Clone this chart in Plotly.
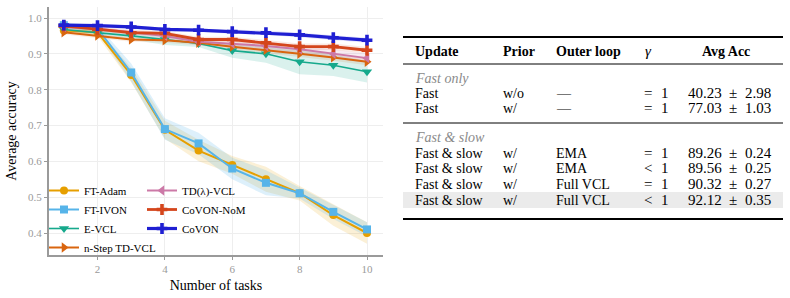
import plotly.graph_objects as go

# ---------------- data ----------------
tasks = [1, 2, 3, 4, 5, 6, 7, 8, 9, 10]

names = ["FT-Adam", "FT-IVON", "E-VCL", "n-Step TD-VCL", "TD(λ)-VCL", "CoVON-NoM", "CoVON"]

ft_adam = [0.965, 0.960, 0.841, 0.688, 0.630, 0.590, 0.550, 0.511, 0.450, 0.400]
ft_ivon = [0.980, 0.970, 0.848, 0.690, 0.650, 0.580, 0.540, 0.511, 0.459, 0.410]
e_vcl = [0.968, 0.960, 0.950, 0.940, 0.929, 0.909, 0.900, 0.878, 0.868, 0.850]
nstep_td = [0.960, 0.951, 0.940, 0.938, 0.931, 0.920, 0.911, 0.900, 0.890, 0.878]
td_lambda = [0.975, 0.970, 0.960, 0.950, 0.934, 0.929, 0.922, 0.913, 0.900, 0.888]
covon_nom = [0.978, 0.968, 0.959, 0.957, 0.940, 0.940, 0.931, 0.920, 0.920, 0.910]
covon = [0.980, 0.979, 0.975, 0.968, 0.966, 0.962, 0.959, 0.953, 0.945, 0.938]

ft_adam_sd = [0.008, 0.010, 0.020, 0.025, 0.030, 0.025, 0.035, 0.020, 0.030, 0.030]
ft_ivon_sd = [0.008, 0.010, 0.025, 0.030, 0.030, 0.030, 0.035, 0.015, 0.020, 0.020]
e_vcl_sd = [0.005, 0.006, 0.010, 0.015, 0.010, 0.020, 0.025, 0.035, 0.030, 0.030]
nstep_td_sd = [0.006, 0.006, 0.006, 0.007, 0.007, 0.008, 0.008, 0.009, 0.009, 0.010]
td_lambda_sd = [0.006, 0.006, 0.008, 0.010, 0.010, 0.010, 0.010, 0.012, 0.012, 0.012]
covon_nom_sd = [0.005, 0.006, 0.006, 0.007, 0.008, 0.008, 0.008, 0.009, 0.009, 0.009]
covon_sd = [0.004, 0.004, 0.005, 0.005, 0.005, 0.006, 0.006, 0.006, 0.007, 0.007]

x_ticks = [2, 4, 6, 8, 10]
y_ticks = [0.4, 0.5, 0.6, 0.7, 0.8, 0.9, 1.0]

# table content
tbl_header = ["Update", "Prior", "Outer loop", "<i>γ</i>", "Avg Acc"]
grp1_title = "Fast only"
grp1_update = ["Fast", "Fast"]
grp1_prior = ["w/o", "w/"]
grp1_outer = ["—", "—"]
grp1_gamma = ["=", "="]
grp1_acc_mean = ["40.23", "77.03"]
grp1_acc_sd = ["2.98", "1.03"]
grp2_title = "Fast &amp; slow"
grp2_update = ["Fast &amp; slow"] * 4
grp2_prior = ["w/", "w/", "w/", "w/"]
grp2_outer = ["EMA", "EMA", "Full VCL", "Full VCL"]
grp2_gamma = ["=", "&lt;", "=", "&lt;"]
grp2_acc_mean = ["89.26", "89.56", "90.32", "92.12"]
grp2_acc_sd = ["0.24", "0.25", "0.27", "0.35"]

# ---------------- style ----------------
series = [ft_adam, ft_ivon, e_vcl, nstep_td, td_lambda, covon_nom, covon]
sds = [ft_adam_sd, ft_ivon_sd, e_vcl_sd, nstep_td_sd, td_lambda_sd, covon_nom_sd, covon_sd]
colors = ["#E69F00", "#56B4E9", "#16A98C", "#D9650F", "#CC79A7", "#D4461C", "#1F1FD2"]
band_rgba = ["rgba(230,159,0,0.16)", "rgba(86,180,233,0.2)", "rgba(22,169,140,0.16)",
             "rgba(217,101,15,0.12)", "rgba(204,121,167,0.15)", "rgba(212,70,28,0.12)",
             "rgba(31,31,210,0.12)"]
symbols = ["circle", "square", "triangle-down", "triangle-right", "triangle-left", "cross", "cross"]
widths = [2, 2, 1.6, 2, 2, 2.8, 3.2]
msizes = [8, 8, 9, 9, 9, 9, 9]
legend_ids = ["legend", "legend", "legend", "legend", "legend2", "legend2", "legend2"]

SERIF = "Liberation Serif, Times New Roman, serif"

W, H = 790, 298
ML, MR, MT, MB = 49, 7, 7, 43
PW, PH = W - ML - MR, H - MT - MB


def px_x(px):
    return (px - ML) / PW


def px_y(py):
    return 1 - (py - MT) / PH


fig = go.Figure()

# bands
for s, sd, c in zip(series, sds, band_rgba):
    upper = [v + d for v, d in zip(s, sd)]
    lower = [v - d for v, d in zip(s, sd)]
    fig.add_trace(go.Scatter(
        x=tasks + tasks[::-1], y=upper + lower[::-1], fill="toself",
        fillcolor=c, line=dict(width=0), mode="lines", hoverinfo="skip",
        showlegend=False))

# lines
for i, (name, s) in enumerate(zip(names, series)):
    fig.add_trace(go.Scatter(
        x=tasks, y=s, name=name, mode="lines+markers",
        line=dict(color=colors[i], width=widths[i]),
        marker=dict(symbol=symbols[i], size=msizes[i], color=colors[i],
                    line=dict(width=0)),
        legend=legend_ids[i]))

axis_common = dict(showline=True, linecolor="#9a9a9a", linewidth=2,
                   showgrid=True, gridcolor="#eeeeee", gridwidth=1,
                   zeroline=False, ticks="outside", ticklen=3,
                   tickcolor="#9a9a9a", tickwidth=1,
                   tickfont=dict(family=SERIF, size=11, color="#9a9a9a"))

fig.update_layout(
    width=W, height=H,
    margin=dict(l=ML, r=MR, t=MT, b=MB),
    paper_bgcolor="white", plot_bgcolor="white",
    font=dict(family=SERIF, color="black"),
    xaxis=dict(domain=[0, 334 / PW], range=[0.56, 10.475], tickvals=x_ticks,
               ticktext=[str(t) for t in x_ticks],
               title=dict(text="Number of tasks", font=dict(family=SERIF, size=14, color="black"),
                          standoff=6),
               **axis_common),
    yaxis=dict(range=[0.3386, 1.0307], tickvals=y_ticks,
               ticktext=[f"{t:.1f}" for t in y_ticks],
               title=dict(text="Average accuracy", font=dict(family=SERIF, size=14, color="black"),
                          standoff=8),
               **axis_common),
    legend=dict(x=px_x(44), y=px_y(176), xanchor="left", yanchor="top",
                bgcolor="rgba(0,0,0,0)", font=dict(family=SERIF, size=11, color="black"),
                tracegroupgap=0),
    legend2=dict(x=px_x(142), y=px_y(176), xanchor="left", yanchor="top",
                 bgcolor="rgba(0,0,0,0)", font=dict(family=SERIF, size=11, color="black"),
                 tracegroupgap=0),
)

# ---------------- table ----------------
TX0, TX1 = 403, 783
col_left = [413, 501, 554, 642, 686]

shapes = []
# highlight band for last row
shapes.append(dict(type="rect", xref="paper", yref="paper",
                   x0=px_x(TX0), x1=px_x(TX1), y0=px_y(208), y1=px_y(192),
                   fillcolor="#ebebeb", line=dict(width=0), layer="below"))
for py, w in [(37, 2), (64, 1), (123, 1), (219, 2)]:
    shapes.append(dict(type="line", xref="paper", yref="paper",
                       x0=px_x(TX0), x1=px_x(TX1), y0=px_y(py), y1=px_y(py),
                       line=dict(color="black", width=w)))
fig.update_layout(shapes=shapes)

ann = []


def txt(px, py, text, anchor="left", color="black", size=14):
    ann.append(dict(x=px_x(px), y=px_y(py), xref="paper", yref="paper",
                    text=text, showarrow=False, xanchor=anchor, yanchor="middle",
                    font=dict(family=SERIF, size=size, color=color)))


def row(py, upd, pri, outer, gam, mean, sd):
    txt(col_left[0], py, upd)
    txt(col_left[1], py, pri)
    txt(col_left[2], py, outer)
    # gamma: relation sign then "1"
    txt(col_left[3], py, gam, size=15)
    txt(col_left[3] + 17, py, "1", size=15)
    # accuracy: mean ± sd
    txt(col_left[4], py, mean, size=15)
    txt(col_left[4] + 41, py, "±", size=15)
    txt(col_left[4] + 57, py, sd, size=15)


# header
txt(col_left[0], 51, "<b>" + tbl_header[0] + "</b>")
txt(col_left[1], 51, "<b>" + tbl_header[1] + "</b>")
txt(col_left[2], 51, "<b>" + tbl_header[2] + "</b>")
txt(648, 51, tbl_header[3], anchor="center", size=15)
txt(726, 51, "<b>" + tbl_header[4] + "</b>", anchor="center")

txt(col_left[0], 78, "<i>" + grp1_title + "</i>", color="#8a8a8a")
for r, py in enumerate([93, 108]):
    row(py, grp1_update[r], grp1_prior[r], grp1_outer[r], grp1_gamma[r],
        grp1_acc_mean[r], grp1_acc_sd[r])

txt(col_left[0], 137, "<i>" + grp2_title + "</i>", color="#8a8a8a")
for r, py in enumerate([153, 168, 184, 200]):
    row(py, grp2_update[r], grp2_prior[r], grp2_outer[r], grp2_gamma[r],
        grp2_acc_mean[r], grp2_acc_sd[r])

fig.update_layout(annotations=ann)

fig.write_html("out.html")
